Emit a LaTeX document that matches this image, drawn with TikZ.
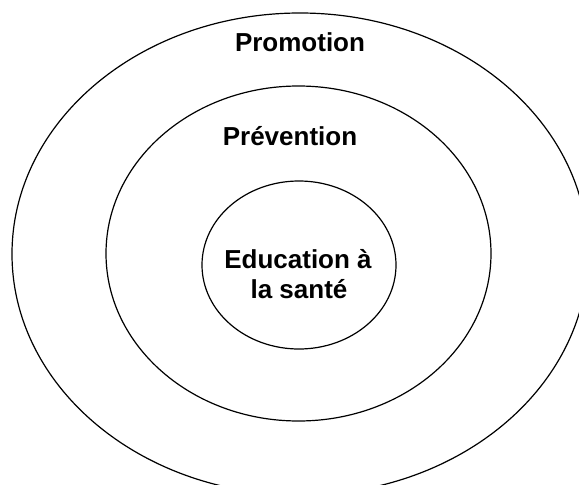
\documentclass[tikz,border=0pt]{standalone}
\usepackage{fontspec}
\setmainfont{Liberation Sans}
\usetikzlibrary{shapes.geometric, positioning}
\tikzset{
ring/.style = {ellipse, draw=black, line width=1.2pt, inner sep=0pt},
label/.style = {font=\fontsize{26}{30}\selectfont\bfseries, inner sep=0pt, anchor=base}
}

\begin{document}
\begin{tikzpicture}[x=1pt, y=-1pt]
\useasboundingbox (0,0) rectangle (579,485);
\clip (0,0) rectangle (579,485);
%----------------------------------------------------------------------------
% Rings
\node (promotion) [ring, minimum width=576pt, minimum height=482pt] at (300,254) {};
\node (prevention) [ring, minimum width=385pt, minimum height=335pt] at (298.5,253.5) {};
\node (education) [ring, minimum width=194pt, minimum height=168pt] at (299,265) {};

%----------------------------------------------------------------------------
% Labels
\node (promotionText) [label] at (300,51) {Promotion};
\node (preventionText) [label] at (290,145) {Prévention};
\node (educationText1) [label] at (298,268) {Education à};
\node (educationText2) [label] at (299,298) {la santé};

\end{tikzpicture}
\end{document}
